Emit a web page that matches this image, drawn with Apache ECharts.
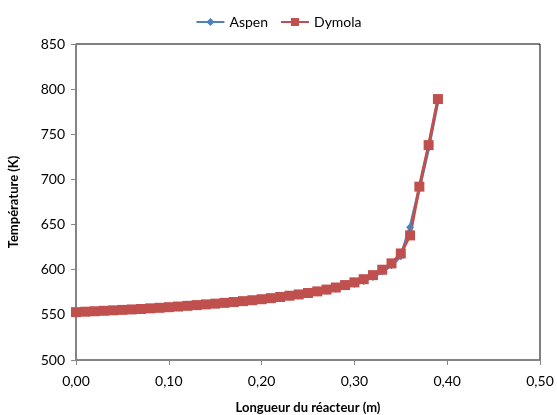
<!DOCTYPE html>
<html><head><meta charset="utf-8">
<script src="https://cdn.jsdelivr.net/npm/echarts@6/dist/echarts.min.js"></script>
<style>html,body{margin:0;padding:0;background:#fff}#c{width:557px;height:415px}</style>
</head><body><div id="c"></div>
<script>
const xValues = [0.00,0.01,0.02,0.03,0.04,0.05,0.06,0.07,0.08,0.09,0.10,0.11,0.12,0.13,0.14,0.15,0.16,0.17,0.18,0.19,0.20,0.21,0.22,0.23,0.24,0.25,0.26,0.27,0.28,0.29,0.30,0.31,0.32,0.33,0.34,0.35,0.36,0.37,0.38,0.39];
const dymola = [553,553.5,554,554.5,555,555.5,556,556.5,557.2,557.8,558.5,559.2,560,560.8,561.6,562.4,563.3,564.2,565.2,566.2,567.3,568.5,569.8,571.2,572.6,574.2,576,578,580.3,583,586,589.5,594,600,607,618,638,692,738,789];
const aspen = [552.5,553,553.5,554,554.5,555,555.5,556,556.7,557.3,558,558.7,559.4,560.2,561,561.8,562.6,563.5,564.4,565.4,566.4,567.6,568.8,570.1,571.5,573,574.7,576.6,578.8,581.3,584.2,587.6,592,598,605,615,647,690,735,787];
const xTicks = {min:0, max:0.5, interval:0.1};
const yTicks = {min:500, max:850, interval:50};
const font = 'Lato, "Open Sans", sans-serif';
const chart = echarts.init(document.getElementById('c'));
chart.setOption({
  animation:false,
  textStyle:{fontFamily:font},
  legend:{top:10,left:'center',itemGap:12,itemWidth:28,itemHeight:10,
    textStyle:{fontFamily:font,fontSize:14,color:'#000'},
    data:['Aspen','Dymola']},
  grid:{left:76,right:17,top:44,bottom:55,containLabel:false,outerBoundsMode:'none',
    show:true,borderColor:'#000',borderWidth:1,backgroundColor:'transparent'},
  xAxis:{type:'value',min:xTicks.min,max:xTicks.max,interval:xTicks.interval,
    name:'Longueur du réacteur (m)',nameLocation:'middle',nameGap:41,
    nameTextStyle:{fontFamily:font,fontWeight:'bold',fontSize:13,color:'#000'},
    axisLine:{show:true,lineStyle:{color:'#868686',width:1.5}},
    axisTick:{show:true,length:5,lineStyle:{color:'#868686'}},
    splitLine:{show:false},
    axisLabel:{fontFamily:font,fontSize:14,color:'#000',margin:14,
      formatter:v=>v.toFixed(2).replace('.',',')}},
  yAxis:{type:'value',min:yTicks.min,max:yTicks.max,interval:yTicks.interval,
    name:'Température (K)',nameLocation:'middle',nameGap:56,nameRotate:90,
    nameTextStyle:{fontFamily:font,fontWeight:'bold',fontSize:13,color:'#000'},
    axisLine:{show:true,lineStyle:{color:'#868686',width:1.5}},
    axisTick:{show:true,length:5,lineStyle:{color:'#868686'}},
    splitLine:{show:false},
    axisLabel:{fontFamily:font,fontSize:14,color:'#000',margin:11}},
  series:[
    {name:'Aspen',type:'line',data:xValues.map((x,i)=>[x,aspen[i]]),
      symbol:'diamond',symbolSize:8,color:'#4F81BD',
      lineStyle:{width:3,color:'#4F81BD'},itemStyle:{color:'#4F81BD'}},
    {name:'Dymola',type:'line',data:xValues.map((x,i)=>[x,dymola[i]]),
      symbol:'rect',symbolSize:10,color:'#C0504D',
      lineStyle:{width:3,color:'#C0504D'},itemStyle:{color:'#C0504D'}}
  ]
});
</script></body></html>
